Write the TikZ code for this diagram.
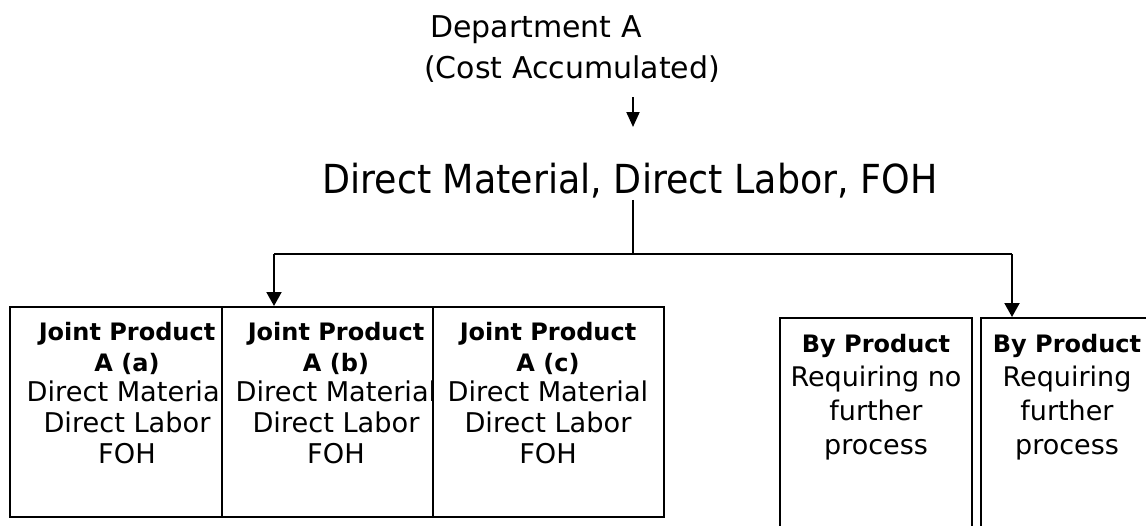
\documentclass[tikz,border=0pt]{standalone}
\usepackage{fontspec}
\usepackage{graphicx}
\setmainfont{DejaVu Sans}
\usetikzlibrary{arrows.meta}
\newcommand\jpbold[1]{{\bfseries\fontsize{24}{30.6}\selectfont #1}}
\begin{document}
\begin{tikzpicture}[x=1pt,y=-1pt,
  conn/.style={line width=2pt},
  tipbig/.style={-{Triangle[width=15pt,length=14pt]}},
  tipsmall/.style={-{Triangle[width=13pt,length=15pt]}},
  jbox/.style={draw, line width=2pt, fill=white, minimum height=210pt, inner sep=0pt},
  bbox/.style={draw, line width=2pt, fill=white, minimum height=242pt, inner sep=0pt},
  jtxt/.style={inner sep=0pt, anchor=base, font=\fontsize{27.2}{30.6}\selectfont},
  btxt/.style={inner sep=0pt, anchor=base, font=\fontsize{27}{34}\selectfont},
  toptxt/.style={inner sep=0pt, anchor=base west, font=\fontsize{30}{36}\selectfont},
]
\useasboundingbox (0,0) rectangle (1146,525);
\clip (0,0) rectangle (1146,525);

% top texts
\node[toptxt] (dept) at (430,37) {Department A};
\node[toptxt] (cost) at (424,78) {(Cost Accumulated)};
\node[anchor=base, inner sep=2pt, font=\fontsize{40}{48}\selectfont] (m) at (630,193)
  {\scalebox{0.91}[1]{Direct Material, Direct Labor, FOH}};

% joint product boxes
\node[jbox, minimum width=212pt] (ja) at (116,412) {};
\node[jtxt] (ta) at (127,340.7) {\begin{tabular}[t]{@{}c@{}}\jpbold{Joint Product}\\ \jpbold{A (a)}\\ Direct Material\\ Direct Labor\\ FOH\end{tabular}};
\node[jbox, minimum width=211pt] (jb) at (327.5,412) {};
\node[jtxt] (tb) at (336,340.7) {\begin{tabular}[t]{@{}c@{}}\jpbold{Joint Product}\\ \jpbold{A (b)}\\ Direct Material\\ Direct Labor\\ FOH\end{tabular}};
\node[jbox, minimum width=231pt] (jc) at (548.5,412) {};
\node[jtxt] (tc) at (548,340.7) {\begin{tabular}[t]{@{}c@{}}\jpbold{Joint Product}\\ \jpbold{A (c)}\\ Direct Material\\ Direct Labor\\ FOH\end{tabular}};

% by product boxes
\node[bbox, minimum width=192pt] (ba) at (876,439) {};
\node[btxt] (tba) at (876,352) {\begin{tabular}[t]{@{}c@{}}\jpbold{By Product}\\ Requiring no\\ further\\ process\end{tabular}};
\node[bbox, minimum width=199pt] (bb) at (1080.5,439) {};
\node[btxt] (tbb) at (1067,352) {\begin{tabular}[t]{@{}c@{}}\jpbold{By Product}\\ Requiring\\ further\\ process\end{tabular}};

% connectors
\coordinate (s1) at (633,97);
\coordinate (s2) at (633,127);
\draw[conn, tipsmall] (s1) -- (s2);
\coordinate (split) at (633,254);
\coordinate (la) at (274,254);
\coordinate (ra) at (1012,254);
\draw[conn] (m.south -| split) -- (split);
\draw[conn] (la) -- (ra);
\draw[conn, tipbig] (la) -- (la |- jb.north);
\draw[conn, tipbig] (ra) -- (ra |- bb.north);
\end{tikzpicture}
\end{document}
